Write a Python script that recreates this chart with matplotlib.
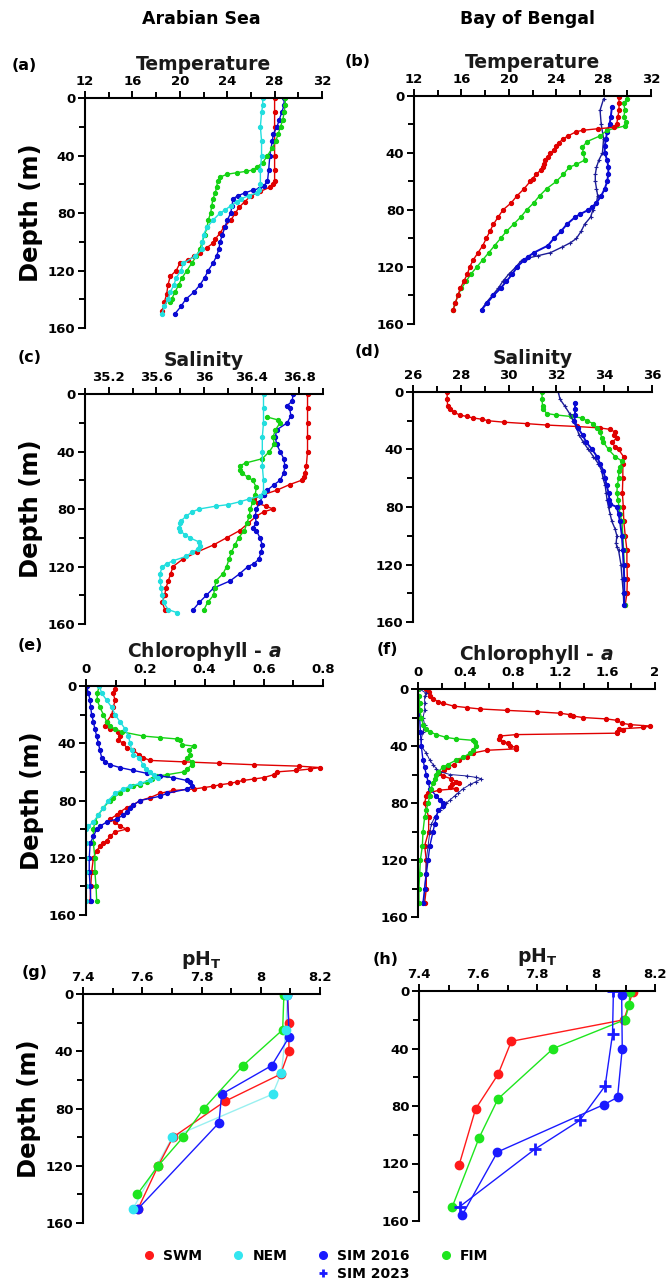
import numpy as np
import matplotlib.pyplot as plt
from matplotlib.ticker import MultipleLocator, FuncFormatter
from matplotlib.lines import Line2D

plt.rcParams['font.family'] = ['DejaVu Sans']
plt.rcParams['font.weight'] = 'bold'
plt.rcParams['mathtext.fontset'] = 'custom'
plt.rcParams['mathtext.rm'] = 'DejaVu Sans:bold'
plt.rcParams['mathtext.it'] = 'DejaVu Sans:italic:bold'
plt.rcParams['mathtext.bf'] = 'DejaVu Sans:bold'

RED = '#e00000'
CYAN = '#22dede'
BLUE = '#0a0ad2'
GREEN = '#14d214'
NAVY = '#1c1c96'

# ---------------- (a) Arabian Sea temperature ----------------
a_swm_z = [0, 10, 20, 30, 40, 50, 58, 60, 62, 65, 68, 72, 76, 80, 85, 90, 94, 98, 101, 104, 108, 110, 113, 115, 120, 124, 130, 136, 142, 148]
a_swm_t = [28.0, 28.0, 28.0, 28.0, 28.0, 28.0, 28.0, 27.9, 27.6, 26.8, 26.0, 25.5, 25.0, 24.7, 24.3, 23.7, 23.4, 23.0, 22.8, 22.3, 21.7, 21.2, 20.7, 20.0, 19.7, 19.2, 19.0, 18.9, 18.7, 18.5]
a_nem_z = [0, 5, 10, 20, 30, 40, 50, 60, 64, 66, 68, 70, 72, 75, 78, 80, 85, 90, 95, 100, 105, 110, 115, 120, 125, 130, 135, 140, 145, 150]
a_nem_t = [27.0, 27.0, 26.9, 26.8, 26.9, 26.9, 26.8, 26.8, 26.7, 26.5, 25.8, 25.2, 24.8, 24.3, 23.8, 23.4, 22.8, 22.3, 22.0, 21.9, 21.9, 21.3, 20.3, 20.1, 19.7, 19.5, 19.2, 19.0, 18.7, 18.5]
a_sim_z = [0, 5, 10, 15, 20, 25, 30, 40, 50, 58, 61, 63, 64, 66, 68, 70, 75, 80, 85, 90, 95, 100, 105, 110, 115, 120, 125, 130, 135, 140, 145, 150]
a_sim_t = [28.8, 28.8, 28.6, 28.4, 28.2, 27.9, 27.8, 27.6, 27.5, 27.4, 27.1, 26.7, 26.2, 25.5, 24.9, 24.5, 24.4, 24.3, 24.0, 23.8, 23.6, 23.4, 23.3, 23.1, 22.8, 22.4, 22.1, 21.7, 21.2, 20.5, 20.1, 19.6]
a_fim_z = [0, 5, 10, 15, 20, 25, 30, 35, 40, 45, 48, 50, 51, 52, 53, 55, 58, 62, 66, 70, 75, 80, 85, 90, 95, 100, 105, 110, 115, 120, 125, 130, 135, 140, 142]
a_fim_t = [28.9, 28.9, 28.8, 28.7, 28.5, 28.3, 28.1, 27.8, 27.4, 27.0, 26.5, 26.2, 25.6, 24.8, 24.0, 23.4, 23.2, 23.1, 23.0, 22.8, 22.7, 22.6, 22.4, 22.3, 22.1, 21.9, 21.7, 21.4, 21.0, 20.6, 20.2, 19.9, 19.6, 19.3, 19.2]

# ---------------- (b) Bay of Bengal temperature ----------------
b_swm_z = [1, 5, 10, 15, 20, 22, 23, 24, 25, 28, 30, 33, 35, 38, 40, 43, 45, 48, 50, 52, 55, 58, 60, 65, 70, 75, 80, 85, 90, 95, 100, 105, 110, 115, 120, 125, 130, 135, 140, 145, 150]
b_swm_t = [29.3, 29.3, 29.3, 29.2, 29.1, 28.9, 27.5, 26.3, 25.7, 25.0, 24.6, 24.2, 24.0, 23.8, 23.5, 23.3, 23.05, 23.0, 22.9, 22.7, 22.3, 22.0, 21.8, 21.3, 20.7, 20.2, 19.5, 19.1, 18.7, 18.4, 18.1, 17.8, 17.4, 17.0, 16.7, 16.5, 16.2, 15.9, 15.7, 15.5, 15.3]
b_sim16_z = [8, 15, 20, 25, 30, 35, 40, 45, 50, 55, 60, 65, 70, 75, 78, 80, 83, 85, 90, 95, 100, 105, 110, 113, 115, 120, 125, 130, 135, 140, 145, 150]
b_sim16_t = [28.7, 28.6, 28.5, 28.3, 28.2, 28.1, 28.1, 28.3, 28.4, 28.4, 28.3, 28.1, 27.8, 27.4, 27.0, 26.7, 26.0, 25.6, 24.9, 24.4, 23.8, 23.3, 22.1, 21.6, 21.3, 20.7, 20.3, 19.8, 19.3, 18.7, 18.2, 17.7]
b_sim23_z = [2, 10, 20, 30, 40, 45, 50, 55, 60, 65, 70, 75, 80, 85, 90, 95, 100, 103, 106, 110, 112, 114, 116, 120, 125, 130, 135, 140, 145, 150]
b_sim23_t = [28.0, 27.7, 27.8, 28.0, 27.9, 27.6, 27.4, 27.3, 27.3, 27.4, 27.5, 27.4, 27.1, 26.9, 26.4, 26.1, 25.7, 25.2, 24.5, 23.5, 22.5, 21.5, 21.0, 20.6, 20.0, 19.5, 19.1, 18.6, 18.1, 17.7]
b_fim_z = [2, 5, 10, 15, 18, 21, 24, 28, 32, 36, 40, 45, 48, 50, 55, 60, 65, 70, 75, 80, 85, 90, 95, 100, 105, 110, 115, 120, 125, 130, 135, 140, 145, 150]
b_fim_t = [30.0, 29.7, 29.8, 29.7, 29.9, 29.8, 28.3, 27.7, 26.6, 26.2, 26.3, 26.4, 25.7, 25.1, 24.6, 24.0, 23.2, 22.6, 22.1, 21.5, 21.0, 20.4, 19.8, 19.3, 18.8, 18.3, 17.8, 17.3, 16.8, 16.4, 16.0, 15.7, 15.5, 15.3]

# ---------------- (c) Arabian Sea salinity ----------------
c_swm_z = [0, 10, 20, 30, 40, 50, 55, 58, 60, 63, 67, 70, 73, 76, 78, 80, 82, 85, 90, 95, 100, 105, 110, 115, 120, 125, 130, 135, 140, 145, 150]
c_swm_s = [36.87, 36.87, 36.87, 36.87, 36.87, 36.86, 36.85, 36.84, 36.82, 36.72, 36.61, 36.5, 36.42, 36.45, 36.52, 36.58, 36.5, 36.44, 36.37, 36.3, 36.19, 36.08, 35.94, 35.82, 35.74, 35.72, 35.7, 35.68, 35.67, 35.65, 35.67]
c_nem_z = [0, 10, 20, 30, 40, 50, 60, 68, 71, 73, 75, 77, 78, 80, 82, 85, 88, 90, 93, 95, 98, 100, 103, 106, 108, 110, 113, 116, 118, 120, 125, 130, 135, 140, 145, 150, 152]
c_nem_s = [36.5, 36.5, 36.5, 36.49, 36.49, 36.49, 36.5, 36.5, 36.47, 36.38, 36.3, 36.2, 36.1, 35.96, 35.9, 35.85, 35.81, 35.8, 35.79, 35.8, 35.84, 35.88, 35.96, 35.97, 35.95, 35.9, 35.85, 35.74, 35.69, 35.65, 35.63, 35.63, 35.64, 35.65, 35.66, 35.7, 35.77]
c_sim_z = [0, 5, 8, 10, 15, 20, 25, 30, 35, 40, 45, 50, 55, 60, 63, 67, 70, 75, 80, 85, 90, 93, 95, 100, 105, 110, 115, 118, 120, 125, 130, 135, 140, 145, 150]
c_sim_s = [36.75, 36.74, 36.7, 36.72, 36.73, 36.7, 36.61, 36.6, 36.61, 36.64, 36.67, 36.68, 36.67, 36.64, 36.59, 36.53, 36.5, 36.47, 36.44, 36.43, 36.44, 36.41, 36.44, 36.47, 36.49, 36.48, 36.46, 36.42, 36.37, 36.3, 36.22, 36.08, 36.02, 35.96, 35.91]
c_fim_z = [16, 18, 20, 25, 30, 35, 40, 45, 48, 50, 53, 55, 58, 60, 65, 70, 75, 80, 85, 90, 95, 100, 105, 110, 115, 120, 125, 130, 135, 140, 145, 150]
c_fim_s = [36.53, 36.62, 36.64, 36.6, 36.58, 36.59, 36.55, 36.49, 36.35, 36.3, 36.3, 36.32, 36.37, 36.41, 36.44, 36.43, 36.41, 36.39, 36.38, 36.36, 36.34, 36.29, 36.26, 36.23, 36.21, 36.19, 36.16, 36.1, 36.09, 36.08, 36.03, 36.0]

# ---------------- (d) Bay of Bengal salinity ----------------
d_swm_z = [0, 5, 10, 12, 14, 16, 17, 18, 19, 20, 21, 22, 23, 24, 25, 26, 28, 30, 32, 35, 38, 40, 45, 50, 60, 70, 80, 90, 100, 110, 120, 130, 140, 148]
d_swm_s = [27.43, 27.43, 27.45, 27.54, 27.7, 27.96, 28.24, 28.5, 28.9, 29.15, 29.8, 30.75, 31.6, 32.85, 33.83, 34.25, 34.46, 34.4, 34.53, 34.32, 34.45, 34.6, 34.81, 34.78, 34.78, 34.76, 34.8, 34.82, 34.88, 34.95, 34.95, 34.97, 34.95, 34.88]
d_sim16_z = [8, 12, 16, 20, 25, 30, 35, 40, 45, 50, 55, 60, 65, 70, 75, 78, 80, 85, 90, 100, 110, 120, 130, 140, 148]
d_sim16_s = [32.78, 32.78, 32.78, 32.75, 32.9, 33.1, 33.25, 33.5, 33.7, 33.83, 33.97, 34.04, 34.1, 34.18, 34.22, 34.25, 34.53, 34.6, 34.66, 34.74, 34.78, 34.81, 34.84, 34.84, 34.84]
d_sim23_z = [0, 5, 10, 15, 20, 25, 30, 35, 40, 45, 50, 55, 60, 65, 70, 75, 80, 85, 90, 95, 100, 105, 108, 110, 120, 130, 140, 148]
d_sim23_s = [32.08, 32.15, 32.36, 32.55, 32.7, 32.85, 32.95, 33.13, 33.34, 33.55, 33.76, 33.9, 33.95, 34.04, 34.08, 34.12, 34.18, 34.25, 34.32, 34.45, 34.53, 34.5, 34.53, 34.6, 34.7, 34.75, 34.8, 34.82]
d_fim_z = [0, 5, 10, 12, 15, 16, 17, 18, 20, 22, 25, 28, 32, 35, 40, 45, 48, 52, 55, 60, 65, 70, 75, 80, 85, 90, 100, 110, 120, 130, 140, 148]
d_fim_s = [31.4, 31.4, 31.42, 31.45, 31.6, 32.0, 32.6, 33.06, 33.27, 33.55, 33.7, 33.83, 33.9, 33.97, 34.18, 34.46, 34.74, 34.68, 34.62, 34.6, 34.55, 34.53, 34.58, 34.62, 34.66, 34.74, 34.78, 34.81, 34.84, 34.84, 34.84, 34.85]

# ---------------- (e) Arabian Sea chlorophyll-a ----------------
e_swm_z = [2, 5, 10, 15, 20, 25, 28, 30, 32, 35, 38, 40, 43, 45, 48, 50, 52, 53, 54, 55, 56, 57, 58, 59, 60, 62, 64, 65, 66, 67, 68, 69, 70, 71, 72, 73, 75, 78, 80, 83, 85, 88, 90, 93, 95, 98, 100, 102, 105, 108, 110, 112, 115, 120, 130, 140, 150]
e_swm_c = [0.098, 0.092, 0.098, 0.092, 0.087, 0.07, 0.064, 0.081, 0.109, 0.115, 0.109, 0.126, 0.137, 0.16, 0.18, 0.192, 0.216, 0.33, 0.45, 0.566, 0.72, 0.79, 0.757, 0.71, 0.644, 0.633, 0.6, 0.566, 0.53, 0.51, 0.487, 0.453, 0.43, 0.397, 0.363, 0.295, 0.25, 0.216, 0.183, 0.16, 0.137, 0.115, 0.104, 0.081, 0.098, 0.115, 0.137, 0.098, 0.081, 0.07, 0.059, 0.047, 0.036, 0.025, 0.019, 0.016, 0.014]
e_nem_z = [0, 5, 10, 15, 20, 25, 30, 35, 40, 45, 48, 50, 55, 58, 60, 62, 64, 66, 68, 70, 72, 75, 80, 85, 90, 95, 98, 100, 110, 120, 130, 140, 150]
e_nem_c = [0.045, 0.053, 0.07, 0.087, 0.098, 0.115, 0.132, 0.143, 0.149, 0.154, 0.16, 0.18, 0.192, 0.204, 0.216, 0.228, 0.244, 0.216, 0.183, 0.149, 0.126, 0.098, 0.075, 0.059, 0.042, 0.025, 0.008, 0.0, 0.0, 0.0, 0.0, 0.0, 0.0]
e_sim_z = [0, 5, 10, 15, 20, 25, 30, 35, 40, 45, 50, 53, 55, 57, 59, 61, 63, 64, 66, 67, 70, 72, 75, 77, 80, 83, 85, 88, 90, 93, 95, 98, 100, 105, 110, 120, 130, 140, 150]
e_sim_c = [0.002, 0.008, 0.014, 0.016, 0.019, 0.025, 0.03, 0.036, 0.042, 0.047, 0.053, 0.064, 0.081, 0.115, 0.16, 0.205, 0.25, 0.295, 0.34, 0.352, 0.358, 0.341, 0.273, 0.25, 0.183, 0.16, 0.149, 0.137, 0.126, 0.104, 0.07, 0.047, 0.036, 0.025, 0.014, 0.011, 0.011, 0.014, 0.016]
e_fim_z = [0, 5, 10, 15, 20, 25, 28, 30, 32, 35, 36, 37, 38, 41, 42, 45, 48, 50, 53, 55, 58, 60, 62, 63, 65, 67, 69, 70, 72, 75, 78, 80, 85, 90, 95, 100, 110, 120, 130, 140, 150]
e_fim_c = [0.045, 0.038, 0.038, 0.047, 0.059, 0.07, 0.081, 0.098, 0.121, 0.194, 0.25, 0.306, 0.318, 0.324, 0.363, 0.346, 0.352, 0.341, 0.358, 0.358, 0.341, 0.33, 0.273, 0.24, 0.222, 0.205, 0.183, 0.16, 0.137, 0.115, 0.092, 0.081, 0.059, 0.042, 0.03, 0.025, 0.025, 0.03, 0.03, 0.034, 0.036]

# ---------------- (f) Bay of Bengal chlorophyll-a ----------------
f_swm_z = [0, 2, 5, 7, 9, 10, 12, 13, 14, 15, 16, 17, 18, 19, 20, 21, 22, 24, 25, 26, 27, 28, 29, 30, 31, 32, 33, 35, 37, 38, 40, 41, 42, 43, 45, 48, 50, 53, 55, 57, 59, 61, 63, 65, 66, 67, 69, 70, 71, 73, 75, 80, 90, 100, 110, 120, 130, 140, 150]
f_swm_c = [0.07, 0.09, 0.1, 0.13, 0.17, 0.21, 0.3, 0.41, 0.52, 0.75, 1.0, 1.2, 1.28, 1.31, 1.39, 1.59, 1.68, 1.72, 1.79, 1.96, 1.9, 1.7, 1.73, 1.68, 1.68, 0.83, 0.69, 0.68, 0.72, 0.76, 0.775, 0.83, 0.83, 0.58, 0.46, 0.41, 0.35, 0.3, 0.25, 0.22, 0.18, 0.21, 0.28, 0.32, 0.35, 0.29, 0.27, 0.32, 0.18, 0.085, 0.07, 0.056, 0.09, 0.09, 0.056, 0.07, 0.07, 0.07, 0.056]
f_sim16_z = [0, 10, 20, 30, 40, 50, 55, 60, 65, 70, 75, 78, 80, 82, 85, 90, 95, 100, 110, 120, 130, 140, 150]
f_sim16_c = [0.0, 0.008, 0.014, 0.02, 0.028, 0.042, 0.056, 0.07, 0.085, 0.1, 0.155, 0.183, 0.21, 0.21, 0.17, 0.155, 0.14, 0.127, 0.1, 0.085, 0.07, 0.056, 0.042]
f_sim23_z = [0, 3, 5, 10, 15, 20, 25, 30, 35, 40, 45, 50, 53, 56, 58, 60, 61, 62, 63, 65, 67, 70, 73, 75, 78, 80, 83, 85, 90, 95, 100, 110, 120, 130, 140, 150]
f_sim23_c = [0.014, 0.07, 0.056, 0.056, 0.056, 0.042, 0.056, 0.042, 0.028, 0.028, 0.07, 0.1, 0.127, 0.155, 0.183, 0.27, 0.41, 0.49, 0.535, 0.49, 0.44, 0.38, 0.338, 0.31, 0.268, 0.24, 0.21, 0.183, 0.14, 0.113, 0.1, 0.085, 0.07, 0.065, 0.056, 0.05]
f_fim_z = [0, 5, 10, 15, 20, 25, 28, 30, 32, 34, 35, 36, 37, 40, 43, 45, 48, 50, 53, 55, 58, 60, 63, 66, 70, 75, 80, 85, 90, 100, 110, 120, 130, 140, 150]
f_fim_c = [0.0, 0.006, 0.014, 0.014, 0.028, 0.042, 0.07, 0.1, 0.155, 0.24, 0.32, 0.46, 0.48, 0.49, 0.46, 0.44, 0.38, 0.32, 0.25, 0.21, 0.17, 0.155, 0.14, 0.127, 0.11, 0.1, 0.085, 0.07, 0.056, 0.042, 0.037, 0.02, 0.014, 0.008, 0.008]

# ---------------- (g) Arabian Sea pH ----------------
g_swm_z = [0, 20, 40, 56, 75, 100, 120, 150]
g_swm_p = [8.09, 8.095, 8.095, 8.067, 7.879, 7.704, 7.654, 7.586]
g_nem_z = [1, 25, 55, 70, 100, 150]
g_nem_p = [8.09, 8.085, 8.07, 8.04, 7.702, 7.569]
g_sim_z = [1, 30, 50, 70, 90, 150]
g_sim_p = [8.09, 8.096, 8.037, 7.868, 7.859, 7.586]
g_fim_z = [1, 25, 50, 80, 100, 120, 140]
g_fim_p = [8.078, 8.074, 7.94, 7.808, 7.738, 7.654, 7.583]

# ---------------- (h) Bay of Bengal pH ----------------
h_swm_z = [1, 20, 35, 58, 82, 121]
h_swm_p = [8.124, 8.095, 7.713, 7.668, 7.592, 7.536]
h_sim16_z = [3, 40, 74, 79, 112, 156]
h_sim16_p = [8.087, 8.089, 8.073, 8.027, 7.666, 7.546]
h_sim23_z = [0, 30, 66, 90, 110, 150]
h_sim23_p = [8.059, 8.056, 8.031, 7.945, 7.793, 7.538]
h_fim_z = [1, 10, 20, 40, 75, 102, 150]
h_fim_p = [8.115, 8.112, 8.098, 7.855, 7.668, 7.604, 7.513]


def rect(l, t, r, b):
    return [l / 667, 1 - b / 1283, (r - l) / 667, (b - t) / 1283]


def setup(ax, xlim, major, minor, title, ylabel=False):
    ax.set_xlim(*xlim)
    ax.set_ylim(160, 0)
    ax.xaxis.tick_top()
    ax.spines[['bottom', 'right']].set_visible(False)
    ax.spines[['top', 'left']].set_linewidth(1.5)
    ax.xaxis.set_major_locator(MultipleLocator(major))
    ax.xaxis.set_minor_locator(MultipleLocator(minor))
    ax.xaxis.set_major_formatter(FuncFormatter(lambda v, p: f'{round(v, 3):g}'))
    ax.yaxis.set_major_locator(MultipleLocator(40))
    ax.yaxis.set_minor_locator(MultipleLocator(20))
    ax.tick_params(which='major', direction='out', length=5, width=1.4, labelsize=9.5, pad=2)
    ax.tick_params(which='minor', direction='out', length=4, width=1.4)
    ax.set_title(title, fontsize=13.5, fontweight='bold', pad=4, color='#1a1a1a')
    if ylabel:
        ax.set_ylabel('Depth (m)', fontsize=17.5, fontweight='bold', labelpad=3)


def prof(ax, v, z, color, marker='o', ms=3.0, lw=1.0, mew=0.8):
    ax.plot(v, z, color=color, lw=lw, marker=marker, ms=ms, mfc=color, mec=color, mew=mew)


def phline(ax, v, z, color, marker='o'):
    if marker == '+':
        ax.plot(v, z, color=color, lw=1.0, marker='+', ms=8, mew=2.0)
    else:
        ax.plot(v, z, color=color, lw=1.0, marker='o', ms=6, mfc=color, mec=color)


fig = plt.figure(figsize=(6.67, 12.83), dpi=100)

ax = fig.add_axes(rect(85, 98, 322, 328))
setup(ax, (12, 32), 4, 2, 'Temperature', ylabel=True)
prof(ax, a_swm_t, a_swm_z, RED)
prof(ax, a_sim_t, a_sim_z, BLUE)
prof(ax, a_fim_t, a_fim_z, GREEN)
prof(ax, a_nem_t, a_nem_z, CYAN)

ax = fig.add_axes(rect(414, 96, 651, 324))
setup(ax, (12, 32), 4, 2, 'Temperature')
prof(ax, b_sim23_t, b_sim23_z, NAVY, marker='+', ms=3.5)
prof(ax, b_sim16_t, b_sim16_z, BLUE, lw=1.4)
prof(ax, b_fim_t, b_fim_z, GREEN)
prof(ax, b_swm_t, b_swm_z, RED)

ax = fig.add_axes(rect(85, 394, 323, 624))
setup(ax, (35.0, 37.0), 0.4, 0.2, 'Salinity', ylabel=True)
prof(ax, c_swm_s, c_swm_z, RED)
prof(ax, c_sim_s, c_sim_z, BLUE)
prof(ax, c_fim_s, c_fim_z, GREEN)
prof(ax, c_nem_s, c_nem_z, CYAN)

ax = fig.add_axes(rect(413, 392, 652, 622))
setup(ax, (26, 36), 2, 1, 'Salinity')
prof(ax, d_swm_s, d_swm_z, RED)
prof(ax, d_fim_s, d_fim_z, GREEN)
prof(ax, d_sim23_s, d_sim23_z, NAVY, marker='+', ms=3.5)
prof(ax, d_sim16_s, d_sim16_z, BLUE, lw=1.4)

ax = fig.add_axes(rect(86, 686, 323, 915))
setup(ax, (0, 0.8), 0.2, 0.1, r'Chlorophyll - $\mathit{a}$', ylabel=True)
prof(ax, e_swm_c, e_swm_z, RED)
prof(ax, e_fim_c, e_fim_z, GREEN)
prof(ax, e_sim_c, e_sim_z, BLUE)
prof(ax, e_nem_c, e_nem_z, CYAN)

ax = fig.add_axes(rect(418, 689, 655, 917))
setup(ax, (0, 2), 0.4, 0.2, r'Chlorophyll - $\mathit{a}$')
prof(ax, f_swm_c, f_swm_z, RED)
prof(ax, f_sim23_c, f_sim23_z, NAVY, marker='+', ms=3.5, lw=0.7)
prof(ax, f_sim16_c, f_sim16_z, BLUE)
prof(ax, f_fim_c, f_fim_z, GREEN)

ax = fig.add_axes(rect(83, 994, 320, 1223))
setup(ax, (7.4, 8.2), 0.2, 0.1, r'pH$_\mathbf{T}$', ylabel=True)
ax.plot(g_nem_p, g_nem_z, color='#99f0f0', lw=1.0)
phline(ax, g_swm_p, g_swm_z, '#ff1a1a')
phline(ax, g_sim_p, g_sim_z, '#1a1aff')
phline(ax, g_fim_p, g_fim_z, '#1ee61e')
ax.plot(g_nem_p, g_nem_z, color='#33e6f0', lw=0, marker='o', ms=6)

ax = fig.add_axes(rect(419, 991, 655, 1221))
setup(ax, (7.4, 8.2), 0.2, 0.1, r'pH$_\mathbf{T}$')
phline(ax, h_swm_p, h_swm_z, '#ff1a1a')
phline(ax, h_fim_p, h_fim_z, '#1ee61e')
phline(ax, h_sim16_p, h_sim16_z, '#1a1aff')
phline(ax, h_sim23_p, h_sim23_z, '#1a1aff', marker='+')

# column headings and panel letters
fig.text(201 / 667, 1 - 19 / 1283, 'Arabian Sea', ha='center', va='center', fontsize=12.5, fontweight='bold')
fig.text(527 / 667, 1 - 19 / 1283, 'Bay of Bengal', ha='center', va='center', fontsize=12.5, fontweight='bold')
panel_pos = {'(a)': (12, 65), '(b)': (345, 62), '(c)': (18, 357), '(d)': (355, 352),
             '(e)': (18, 645), '(f)': (377, 649), '(g)': (22, 972), '(h)': (373, 960)}
for lab, (px, py) in panel_pos.items():
    fig.text(px / 667, 1 - py / 1283, lab, ha='left', va='center', fontsize=11.5, fontweight='bold')

# legend
blank = Line2D([], [], ls='none', marker=None)
handles = [
    Line2D([], [], ls='none', marker='o', ms=5.5, color='#ff1a1a'), blank,
    Line2D([], [], ls='none', marker='o', ms=5.5, color='#33e6f0'), blank,
    Line2D([], [], ls='none', marker='o', ms=5.5, color='#1a1aff'),
    Line2D([], [], ls='none', marker='+', ms=6, mew=2, color='#1a1aff'),
    Line2D([], [], ls='none', marker='o', ms=5.5, color='#1ee61e'), blank,
]
labels = ['SWM', '', 'NEM', '', 'SIM 2016', 'SIM 2023', 'FIM', '']
fig.legend(handles, labels, loc='center', bbox_to_anchor=(316 / 667, 1 - 1265 / 1283), ncol=4,
           frameon=False, fontsize=10, handlelength=0.8, handletextpad=0.6,
           columnspacing=2.2, labelspacing=0.25)

fig.savefig('out.png', dpi=100)
